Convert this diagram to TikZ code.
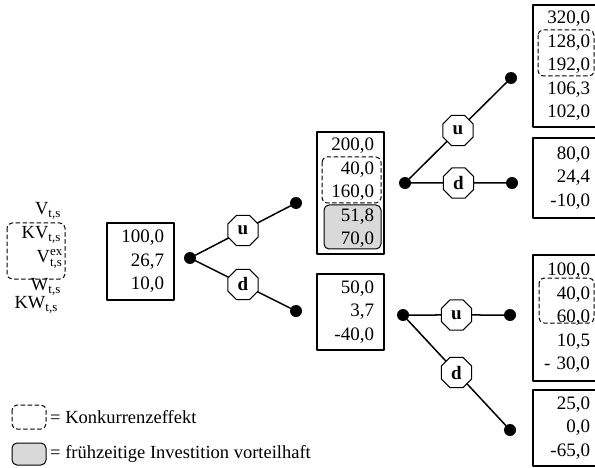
\documentclass[tikz,border=0pt]{standalone}
\usepackage{amsmath}
\usepackage{fontspec}
\setmainfont{Liberation Serif}
\usetikzlibrary{shapes.geometric,calc}

\tikzset{
  valbox/.style={draw,line width=1.1pt,text width=47pt,align=right,inner xsep=10pt,
    inner ysep=0pt,minimum height=#1,font=\fontsize{19}{23.5}\selectfont},
  valbox/.default=76pt,
  knot/.style={circle,fill=black,inner sep=0pt,minimum size=12pt},
  branch/.style={regular polygon,regular polygon sides=8,draw,line width=1pt,fill=white,
    inner sep=0pt,minimum size=33pt,font=\fontsize{19}{19}\selectfont\bfseries},
  twig/.style={line width=1.5pt},
  effect/.style={line width=1pt,dash pattern=on 4pt off 3pt,rounded corners=5pt},
  early/.style={draw,line width=1pt,rounded corners=5pt,fill=black!15},
  lab/.style={inner sep=0pt,font=\fontsize{18.5}{20}\selectfont}
}

\begin{document}
\begin{tikzpicture}[x=1pt,y=-1pt,line cap=round,line join=round]
  \useasboundingbox (0,0) rectangle (595,468);
  \clip (0,0) rectangle (595,468);

  % legend of the variables
  \node[lab,anchor=east] (v) at (61,211) {V$_{\text{t,s}}$};
  \node[lab,anchor=east] (kv) at (61,235) {KV$_{\text{t,s}}$};
  \node[lab,anchor=east] (vex) at (63,259) {V$^{\text{ex}}_{\text{t,s}}$};
  \node[lab,anchor=east] (w) at (61,287) {W$_{\text{t,s}}$};
  \node[lab,anchor=east] (kw) at (58,305) {KW$_{\text{t,s}}$};
  \draw[effect] (7,223) rectangle (65,279);

  % shaded and dashed marks behind the values
  \draw[early] (324,205) rectangle (381,249);
  \draw[effect] (322,157) rectangle (381,203);
  \draw[effect] (538,30) rectangle (594,76);
  \draw[effect] (539,278) rectangle (594,323);

  % value boxes
  \node[valbox=77pt] (a) at (140.5,261.5) {100,0\\26,7\\10,0};
  \node[valbox=122pt] (b) at (350.5,193) {200,0\\40,0\\160,0\\51,8\\70,0};
  \node[valbox] (c) at (350.5,312) {50,0\\3,7\\-40,0};
  \node[valbox=122pt] (bu) at (566.5,66) {320,0\\128,0\\192,0\\106,3\\102,0};
  \node[valbox=80pt] (bd) at (566.5,178) {80,0\\24,4\\-10,0};
  \node[valbox=126pt] (cu) at (566.5,318) {100,0\\40,0\\60,0\\10,5\\- 30,0};
  \node[valbox] (cd) at (566.5,428) {25,0\\0,0\\-65,0};

  % knots of the tree
  \node[knot] (r) at (190,258) {};
  \node[knot] (ru) at (296,203) {};
  \node[knot] (rd) at (296,311) {};
  \node[knot] (s) at (405,183) {};
  \node[knot] (su) at (511,78) {};
  \node[knot] (sd) at (512,183) {};
  \node[knot] (t) at (403,315) {};
  \node[knot] (tu) at (510,315) {};
  \node[knot] (td) at (510,430) {};

  % up and down moves
  \node[branch] (r-u) at ($(r)!.5!(ru)$) {u};
  \node[branch] (r-d) at ($(r)!.5!(rd)$) {d};
  \node[branch] (s-u) at ($(s)!.5!(su)$) {u};
  \node[branch] (s-d) at ($(s)!.5!(sd)$) {d};
  \node[branch] (t-u) at ($(t)!.5!(tu)$) {u};
  \node[branch] (t-d) at ($(t)!.5!(td)$) {d};

  \draw[twig] (r) -- (r-u) -- (ru);
  \draw[twig] (r) -- (r-d) -- (rd);
  \draw[twig] (s) -- (s-u) -- (su);
  \draw[twig] (s) -- (s-d) -- (sd);
  \draw[twig] (t) -- (t-u) -- (tu);
  \draw[twig] (t) -- (t-d) -- (td);

  % legend of the marks
  \draw[effect] (12,405) rectangle (46,429);
  \node[lab,anchor=west] (l1) at (50,417) {= Konkurrenzeffekt};
  \draw[early] (12,443) rectangle (46,465);
  \node[lab,anchor=west] (l2) at (50,454) {= frühzeitige Investition vorteilhaft};
\end{tikzpicture}
\end{document}
